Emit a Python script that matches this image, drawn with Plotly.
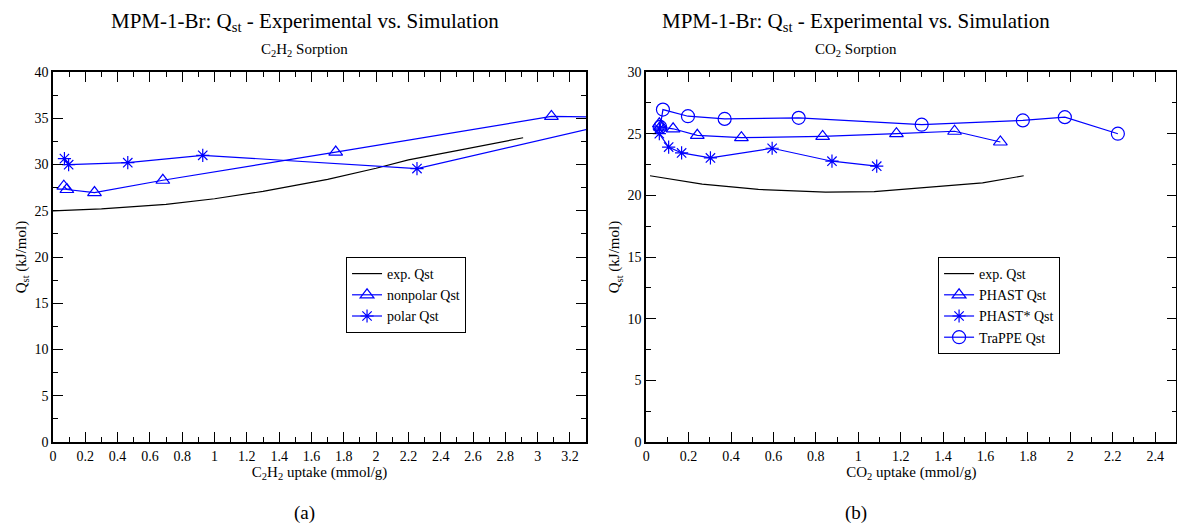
import plotly.graph_objects as go

# ---- Panel (a): C2H2 ----
a_exp_x = [0.0, 0.3, 0.7, 1.0, 1.3, 1.7, 2.0, 2.2, 2.5, 2.91]
a_exp_y = [25.0, 25.2, 25.7, 26.3, 27.1, 28.4, 29.6, 30.5, 31.5, 32.9]
a_np_x = [0.067, 0.086, 0.257, 0.68, 1.75, 3.085, 3.5]
a_np_y = [27.66, 27.3, 26.97, 28.3, 31.35, 35.2, 35.1]
a_pol_x = [0.071, 0.097, 0.463, 0.927, 2.253, 3.45]
a_pol_y = [30.64, 29.99, 30.2, 31.0, 29.56, 34.4]

# ---- Panel (b): CO2 ----
b_exp_x = [0.018, 0.264, 0.529, 0.846, 1.075, 1.32, 1.586, 1.78]
b_exp_y = [21.59, 20.91, 20.48, 20.27, 20.3, 20.65, 21.02, 21.59]
b_phast_x = [0.062, 0.067, 0.127, 0.241, 0.449, 0.832, 1.18, 1.454, 1.67]
b_phast_y = [25.8, 25.54, 25.4, 24.87, 24.68, 24.78, 25.0, 25.2, 24.33]
b_star_x = [0.062, 0.062, 0.106, 0.167, 0.303, 0.594, 0.876, 1.087]
b_star_y = [25.4, 25.0, 23.92, 23.44, 23.04, 23.82, 22.77, 22.37]
b_trappe_x = [0.066, 0.079, 0.197, 0.37, 0.719, 1.299, 1.776, 1.974, 2.224]
b_trappe_y = [25.55, 26.96, 26.42, 26.2, 26.29, 25.73, 26.08, 26.34, 25.0]

FONT = "Liberation Serif"
BLUE = "#0000ff"

fig = go.Figure()

def line_trace(x, y, name, xa, ya, legend):
    return go.Scatter(x=x, y=y, mode="lines", name=name, xaxis=xa, yaxis=ya,
                      line=dict(color="black", width=1.2), legend=legend)

def mk_trace(x, y, name, sym, size, xa, ya, legend):
    return go.Scatter(x=x, y=y, mode="lines+markers", name=name, xaxis=xa, yaxis=ya,
                      line=dict(color=BLUE, width=1.2),
                      marker=dict(symbol=sym, size=size, color=BLUE,
                                  line=dict(color=BLUE, width=1.2)),
                      legend=legend, cliponaxis=True)

fig.add_trace(line_trace(a_exp_x, a_exp_y, "exp. Qst", "x", "y", "legend"))
fig.add_trace(mk_trace(a_np_x, a_np_y, "nonpolar Qst", "triangle-up-open", 12, "x", "y", "legend"))
fig.add_trace(mk_trace(a_pol_x, a_pol_y, "polar Qst", "asterisk-open", 11, "x", "y", "legend"))

fig.add_trace(line_trace(b_exp_x, b_exp_y, "exp. Qst", "x2", "y2", "legend2"))
fig.add_trace(mk_trace(b_phast_x, b_phast_y, "PHAST Qst", "triangle-up-open", 12, "x2", "y2", "legend2"))
fig.add_trace(mk_trace(b_star_x, b_star_y, "PHAST* Qst", "asterisk-open", 11, "x2", "y2", "legend2"))
fig.add_trace(mk_trace(b_trappe_x, b_trappe_y, "TraPPE Qst", "circle-open", 13, "x2", "y2", "legend2"))

tickfont = dict(family=FONT, size=14, color="black")
titlefont = dict(family=FONT, size=15, color="black")

def xaxis(domain, rng, anchor, title):
    return dict(domain=domain, range=rng, anchor=anchor, dtick=0.2, tick0=0,
                ticks="inside", ticklen=10, tickwidth=1.2, tickcolor="black",
                minor=dict(ticks="inside", ticklen=5, dtick=0.1, tickcolor="black", tickwidth=1.2),
                showline=True, linecolor="black", linewidth=1.5, mirror="ticks",
                showgrid=False, zeroline=False, tickfont=tickfont, automargin=False,
                title=dict(text=title, font=titlefont, standoff=2))

def yaxis(domain, rng, anchor, title):
    return dict(domain=domain, range=rng, anchor=anchor, dtick=5, tick0=0,
                ticks="inside", ticklen=10, tickwidth=1.2, tickcolor="black",
                minor=dict(ticks="inside", ticklen=5, dtick=2.5, tickcolor="black", tickwidth=1.2),
                showline=True, linecolor="black", linewidth=1.5, mirror="ticks",
                showgrid=False, zeroline=False, tickfont=tickfont, automargin=False,
                title=dict(text=title, font=titlefont, standoff=4))

ydom = [0.1597, 0.863]
legfont = dict(family=FONT, size=14, color="black")

fig.update_layout(
    width=1177, height=526,
    margin=dict(l=0, r=0, t=0, b=0, autoexpand=False),
    paper_bgcolor="white", plot_bgcolor="white",
    font=dict(family=FONT, color="black"),
    xaxis=xaxis([0.045, 0.498], [0, 3.3], "y", "C<sub>2</sub>H<sub>2</sub> uptake (mmol/g)"),
    yaxis=yaxis(ydom, [0, 40], "x", "Q<sub>st</sub> (kJ/mol)"),
    xaxis2=xaxis([0.549, 0.9995], [0, 2.5], "y2", "CO<sub>2</sub> uptake (mmol/g)"),
    yaxis2=yaxis(ydom, [0, 30], "x2", "Q<sub>st</sub> (kJ/mol)"),
    legend=dict(x=0.294, y=0.5114, xanchor="left", yanchor="top",
                bordercolor="black", borderwidth=1, bgcolor="white", font=legfont,
                tracegroupgap=0, itemwidth=30),
    legend2=dict(x=0.797, y=0.5114, xanchor="left", yanchor="top",
                 bordercolor="black", borderwidth=1, bgcolor="white", font=legfont,
                 tracegroupgap=0, itemwidth=30),
    showlegend=True,
)

ann = []
for cx, sub, lab in [(0.259, "C<sub>2</sub>H<sub>2</sub> Sorption", "(a)"),
                     (0.727, "CO<sub>2</sub> Sorption", "(b)")]:
    ann.append(dict(x=cx, y=(526 - 22) / 526, xref="paper", yref="paper", showarrow=False,
                    text="MPM-1-Br: Q<sub>st</sub> - Experimental vs. Simulation",
                    font=dict(family=FONT, size=21, color="black"), xanchor="center", yanchor="middle"))
    ann.append(dict(x=cx, y=(526 - 50) / 526, xref="paper", yref="paper", showarrow=False,
                    text=sub, font=dict(family=FONT, size=15, color="black"),
                    xanchor="center", yanchor="middle"))
    ann.append(dict(x=cx, y=(526 - 513) / 526, xref="paper", yref="paper", showarrow=False,
                    text=lab, font=dict(family=FONT, size=19, color="black"),
                    xanchor="center", yanchor="middle"))
fig.update_layout(annotations=ann)

fig.write_html("out.html", config={"displayModeBar": False},
               post_script="document.body.style.margin='0';document.body.style.padding='0';")
